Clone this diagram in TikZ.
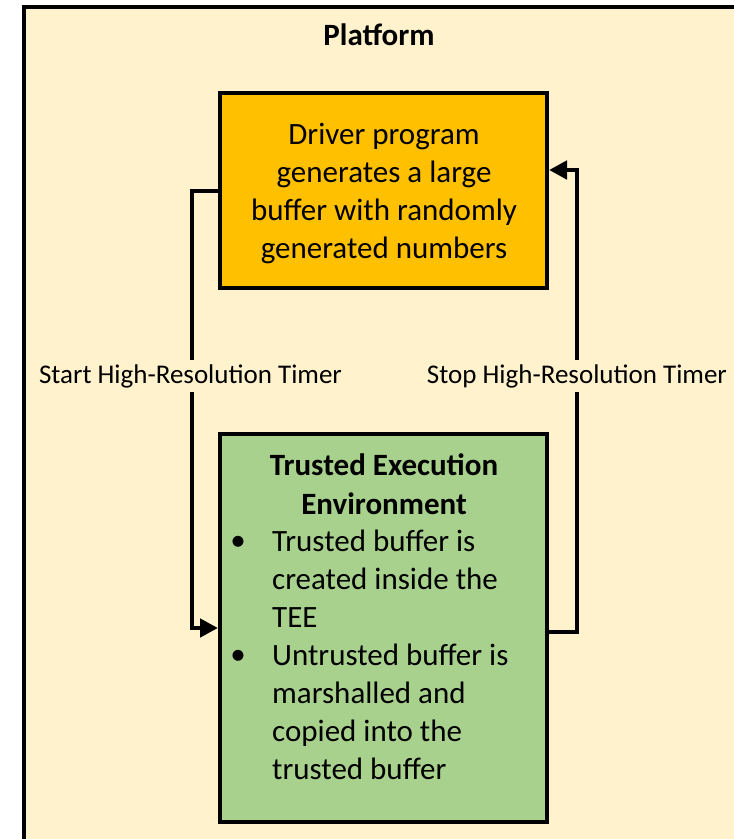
\documentclass[tikz,border=0pt]{standalone}
\usepackage{fontspec}
\setmainfont{Carlito}
\usetikzlibrary{arrows.meta}
\definecolor{platform}{HTML}{FFF2CC}
\definecolor{driverc}{HTML}{FFC000}
\definecolor{teec}{HTML}{A9D18E}
\tikzset{
  box/.style={draw=black, line width=4pt, inner sep=0pt},
  conn/.style={draw=black, line width=4.5pt, -{Triangle[length=18pt,width=18pt]}, line join=miter},
  lbl/.style={fill=platform, inner xsep=3pt, inner ysep=4pt, font=\fontsize{27}{32}\selectfont},
  maintxt/.style={font=\fontsize{31}{38}\selectfont, inner sep=0pt},
}
\begin{document}
\begin{tikzpicture}[x=1pt,y=-1pt]
\useasboundingbox (0,0) rectangle (734,839);
\fill[white] (0,0) rectangle (734,839);
% platform
\draw[fill=platform, line width=4.5pt] (24,7) rectangle (760,870);
\node[font=\bfseries\fontsize{31}{38}\selectfont, anchor=base, inner sep=0pt] (title) at (379,45) {Platform};
% driver box
\node[box, fill=driverc, minimum width=327pt, minimum height=195pt] (drv) at (383.5,190.5) {};
\node[maintxt, align=center] (drvtxt) at (384,193.5) {Driver program\\generates a large\\buffer with randomly\\generated numbers};
% TEE box
\node[box, fill=teec, minimum width=327pt, minimum height=388pt] (tee) at (383.5,628) {};
\node[maintxt, font=\bfseries\fontsize{31}{38.5}\selectfont, align=center] (teetitle) at (384,484) {Trusted Execution\\Environment};
\node[maintxt] (b1) at (238,543) {•};
\node[maintxt, anchor=west, align=left] (t1) at (272,578.5) {Trusted buffer is\\created inside the\\TEE};
\node[maintxt] (b2) at (238,657) {•};
\node[maintxt, anchor=west, align=left] (t2) at (272,711.5) {Untrusted buffer is\\marshalled and\\copied into the\\trusted buffer};
% connectors
\coordinate (l1) at (192,191);
\coordinate (l2) at (192,628);
\coordinate (r1) at (577,632);
\coordinate (r2) at (577,170);
\draw[conn] (drv.west |- l1) -- (l1) -- (l2) -- (tee.west |- l2);
\draw[conn] (tee.east |- r1) -- (r1) -- (r2) -- (drv.east |- r2);
\node[lbl, anchor=base] (start) at (190.5,383) {Start High-Resolution Timer};
\node[lbl, anchor=base] (stop) at (577,383) {Stop High-Resolution Timer};
\end{tikzpicture}
\end{document}
